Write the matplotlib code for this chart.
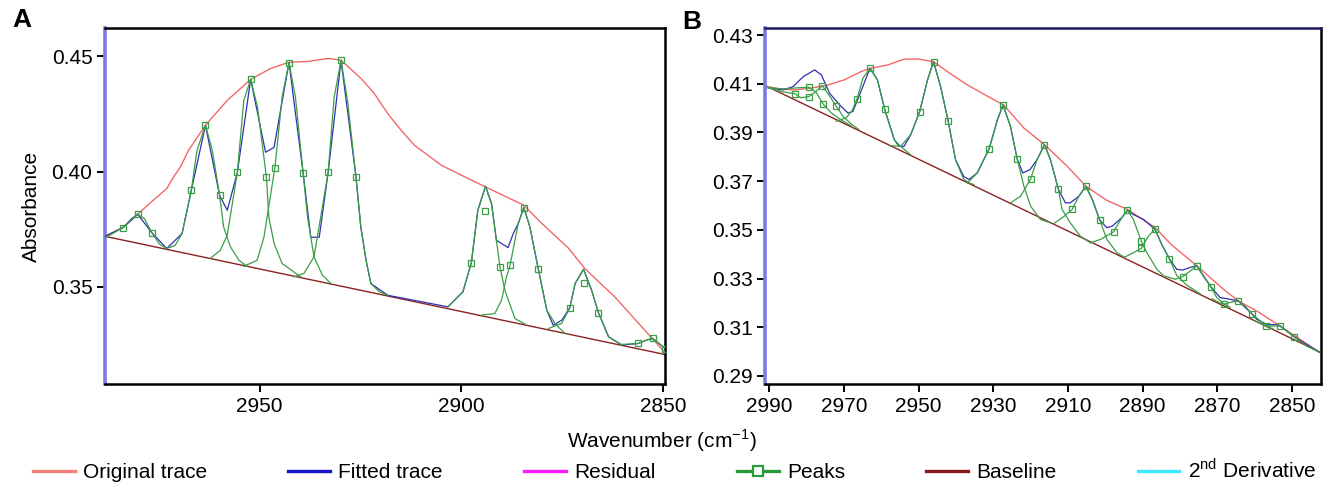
import matplotlib
matplotlib.use("Agg")
import matplotlib.pyplot as plt
from matplotlib.lines import Line2D

plt.rcParams['font.family'] = ['Liberation Sans', 'DejaVu Sans']
plt.rcParams['mathtext.fontset'] = 'custom'
plt.rcParams['mathtext.rm'] = 'Liberation Sans'

RED = '#f26868'
BLUE = '#3030b0'
GREEN = '#3a9e46'
BASE = '#8b2222'

# ---------------- panel A ----------------
A_BASE_X = [2988.3, 2849.5]
A_BASE_Y = [0.3719, 0.3206]

A_ORIG_X = [2988.3, 2983.8, 2980.2, 2976.3, 2973.0, 2971.3, 2969.6, 2967.6, 2963.4, 2958.0,
            2952.2, 2947.3, 2942.8, 2938.1, 2932.8, 2929.8, 2924.9, 2921.6, 2918.2, 2914.9,
            2911.6, 2909.9, 2904.9, 2898.3, 2894.3, 2884.5, 2880.1, 2873.4, 2869.5, 2861.9,
            2849.4]
A_ORIG_Y = [0.3719, 0.3758, 0.3815, 0.3876, 0.3926, 0.3977, 0.4020, 0.4092, 0.4201, 0.4309,
            0.4400, 0.4447, 0.4474, 0.4478, 0.4491, 0.4483, 0.4405, 0.4340, 0.4251, 0.4179,
            0.4114, 0.4092, 0.4027, 0.3970, 0.3936, 0.3854, 0.3776, 0.3667, 0.3581, 0.3455,
            0.3212]

A_FIT_X = [2988.3, 2983.8, 2980.2, 2976.7, 2973.0, 2969.2, 2966.9, 2963.4, 2959.9, 2958.0,
           2955.5, 2952.2, 2948.5, 2946.4, 2942.7, 2939.2, 2937.3, 2935.2, 2933.0, 2929.8,
           2926.1, 2924.9, 2923.6, 2922.4, 2918.2, 2903.3, 2899.6, 2897.5, 2895.9, 2894.0,
           2892.5, 2891.3, 2888.4, 2887.1, 2885.9, 2884.5, 2883.0, 2880.9, 2878.8, 2877.2,
           2875.1, 2873.1, 2871.8, 2869.7, 2867.7, 2866.0, 2863.5, 2860.2, 2856.1, 2854.5,
           2852.6, 2849.4]
A_FIT_Y = [0.3719, 0.3757, 0.3815, 0.3735, 0.3666, 0.3731, 0.3919, 0.4201, 0.3897, 0.3832,
           0.3996, 0.4400, 0.4084, 0.4105, 0.4473, 0.3994, 0.3715, 0.3715, 0.3996, 0.4483,
           0.3977, 0.3760, 0.3615, 0.3514, 0.3463, 0.3413, 0.3478, 0.3605, 0.3832, 0.3936,
           0.3861, 0.3702, 0.3670, 0.3732, 0.3774, 0.3844, 0.3760, 0.3576, 0.3398, 0.3333,
           0.3355, 0.3409, 0.3514, 0.3576, 0.3485, 0.3387, 0.3283, 0.3247, 0.3254, 0.3266,
           0.3276, 0.3232]

A_PEAKS_X = [
    [2987.9, 2983.8, 2981.8, 2980.2, 2978.5, 2976.7, 2974.8, 2973.0],
    [2973.0, 2970.9, 2969.2, 2966.9, 2965.5, 2963.4, 2961.7, 2959.9, 2958.9, 2957.2, 2955.1, 2953.1],
    [2962.2, 2959.7, 2958.0, 2955.5, 2953.9, 2952.2, 2950.5, 2948.3, 2947.7, 2946.4, 2944.4, 2939.8],
    [2953.9, 2950.6, 2948.9, 2946.2, 2944.4, 2942.7, 2941.1, 2939.2, 2938.1, 2936.5, 2934.4, 2932.3],
    [2941.5, 2939.0, 2936.5, 2933.0, 2931.5, 2929.8, 2928.2, 2926.1, 2924.9, 2923.6, 2922.4, 2920.3, 2918.2],
    [2903.3, 2899.6, 2897.5, 2895.9, 2894.0, 2892.5, 2891.3, 2890.4, 2889.2, 2886.7, 2884.2],
    [2895.0, 2891.7, 2890.0, 2888.8, 2887.9, 2885.9, 2884.5, 2883.0, 2880.9, 2878.8, 2876.8, 2874.3],
    [2878.4, 2875.1, 2873.1, 2871.8, 2869.7, 2867.7, 2866.0, 2863.5, 2860.2],
    [2860.2, 2856.1, 2854.5, 2852.6, 2849.4],
]
A_PEAKS_Y = [
    [0.3716, 0.3757, 0.3795, 0.3815, 0.3795, 0.3735, 0.3685, 0.3666],
    [0.3666, 0.3680, 0.3731, 0.3919, 0.4092, 0.4201, 0.4092, 0.3897, 0.3760, 0.3673, 0.3615, 0.3589],
    [0.3623, 0.3659, 0.3724, 0.3996, 0.4309, 0.4400, 0.4280, 0.3977, 0.3803, 0.3688, 0.3601, 0.3543],
    [0.3589, 0.3615, 0.3716, 0.4016, 0.4323, 0.4473, 0.4323, 0.3994, 0.3803, 0.3630, 0.3550, 0.3514],
    [0.3543, 0.3558, 0.3630, 0.3996, 0.4323, 0.4483, 0.4309, 0.3977, 0.3760, 0.3615, 0.3514, 0.3478, 0.3463],
    [0.3413, 0.3478, 0.3605, 0.3832, 0.3936, 0.3861, 0.3702, 0.3586, 0.3485, 0.3362, 0.3338],
    [0.3377, 0.3384, 0.3442, 0.3543, 0.3594, 0.3774, 0.3844, 0.3760, 0.3576, 0.3398, 0.3341, 0.3297],
    [0.3319, 0.3341, 0.3409, 0.3514, 0.3576, 0.3485, 0.3387, 0.3283, 0.3247],
    [0.3250, 0.3254, 0.3266, 0.3276, 0.3232],
]

A_SQ_X = [2983.8, 2980.2, 2976.7, 2966.9, 2963.4, 2959.9, 2955.5, 2952.2, 2948.5, 2946.2,
          2942.7, 2939.2, 2933.0, 2929.8, 2926.1, 2897.5, 2894.0, 2890.4, 2887.9, 2884.5,
          2880.9, 2873.1, 2869.5, 2866.0, 2856.1, 2852.6, 2849.4]
A_SQ_Y = [0.3757, 0.3815, 0.3735, 0.3919, 0.4201, 0.3897, 0.3996, 0.4400, 0.3977, 0.4016,
          0.4473, 0.3994, 0.3996, 0.4483, 0.3977, 0.3605, 0.3828, 0.3586, 0.3594, 0.3844,
          0.3576, 0.3409, 0.3517, 0.3387, 0.3254, 0.3276, 0.3232]

A_XTICKS = [2950, 2900, 2850]
A_YTICKS = [0.35, 0.40, 0.45]

# ---------------- panel B ----------------
B_BASE_X = [2990.8, 2842.3]
B_BASE_Y = [0.4091, 0.2996]

B_ORIG_X = [2990.3, 2986.8, 2983.2, 2978.8, 2974.3, 2969.9, 2965.4, 2962.8, 2958.3, 2953.9,
            2950.3, 2946.0, 2942.3, 2936.9, 2929.8, 2927.2, 2921.8, 2916.3, 2910.2, 2905.2,
            2899.6, 2894.1, 2886.7, 2882.4, 2875.5, 2868.4, 2864.4, 2859.5, 2853.3, 2842.7]
B_ORIG_Y = [0.4088, 0.4078, 0.4075, 0.4082, 0.4095, 0.4116, 0.4150, 0.4164, 0.4177, 0.4201,
            0.4202, 0.4191, 0.4150, 0.4095, 0.4034, 0.4013, 0.3918, 0.3850, 0.3761, 0.3679,
            0.3621, 0.3584, 0.3510, 0.3440, 0.3352, 0.3256, 0.3208, 0.3167, 0.3106, 0.2997]

B_FIT_X = [2990.3, 2986.3, 2983.6, 2980.9, 2977.8, 2976.0, 2973.8, 2971.1, 2968.9, 2967.6,
           2965.8, 2963.0, 2961.0, 2959.1, 2956.5, 2955.2, 2953.9, 2952.1, 2949.7, 2947.6,
           2946.0, 2944.1, 2942.1, 2940.1, 2937.9, 2936.5, 2934.3, 2931.1, 2928.9, 2927.4,
           2925.4, 2923.6, 2922.1, 2920.2, 2918.3, 2916.3, 2914.7, 2912.6, 2910.7, 2909.4,
           2907.1, 2905.2, 2903.5, 2901.5, 2899.6, 2898.2, 2895.6, 2894.1, 2892.5, 2889.8,
           2886.7, 2884.9, 2882.9, 2880.9, 2879.3, 2877.3, 2875.5, 2871.8, 2869.3, 2866.6,
           2864.4, 2860.7, 2859.5, 2857.0, 2854.2, 2853.3, 2849.5, 2842.6]
B_FIT_Y = [0.4084, 0.4075, 0.4088, 0.4129, 0.4157, 0.4136, 0.4061, 0.4013, 0.3980, 0.3986,
           0.4054, 0.4164, 0.4116, 0.3997, 0.3870, 0.3843, 0.3843, 0.3891, 0.3986, 0.4116,
           0.4191, 0.4088, 0.3949, 0.3788, 0.3719, 0.3707, 0.3734, 0.3833, 0.3952, 0.4013,
           0.3925, 0.3791, 0.3734, 0.3747, 0.3788, 0.3850, 0.3788, 0.3668, 0.3611, 0.3611,
           0.3638, 0.3679, 0.3625, 0.3540, 0.3509, 0.3515, 0.3550, 0.3581, 0.3563, 0.3543,
           0.3502, 0.3440, 0.3382, 0.3338, 0.3335, 0.3346, 0.3352, 0.3267, 0.3222, 0.3215,
           0.3208, 0.3154, 0.3133, 0.3113, 0.3110, 0.3106, 0.3061, 0.2997]

B_PEAKS_X = [
    [2990.3, 2986.3, 2982.8, 2979.4, 2977.5, 2975.6, 2973.4, 2970.8, 2968.1],
    [2990.3, 2986.3, 2983.1, 2981.5, 2979.4, 2977.5, 2975.8, 2974.0, 2972.0, 2970.2, 2968.1, 2966.0],
    [2972.1, 2969.4, 2967.8, 2966.5, 2964.9, 2963.0, 2961.0, 2959.1, 2956.5, 2954.8, 2952.1],
    [2957.4, 2954.8, 2952.1, 2949.7, 2947.6, 2946.0, 2944.1, 2942.1, 2940.1, 2937.9, 2936.5, 2935.2],
    [2936.9, 2934.3, 2931.1, 2928.9, 2927.4, 2925.4, 2923.6, 2921.8, 2920.0, 2917.4, 2914.7],
    [2925.4, 2922.7, 2920.0, 2918.3, 2916.3, 2914.7, 2912.6, 2911.6, 2909.4, 2906.7, 2904.0],
    [2913.8, 2911.1, 2908.9, 2907.1, 2905.2, 2903.5, 2901.5, 2899.6, 2896.9, 2894.7],
    [2904.0, 2901.3, 2897.8, 2895.6, 2894.1, 2892.5, 2890.4, 2888.9, 2886.2, 2884.4],
    [2895.1, 2892.5, 2890.4, 2888.5, 2886.7, 2884.9, 2882.9, 2880.9, 2878.2, 2874.6],
    [2884.0, 2881.3, 2879.3, 2877.3, 2875.5, 2873.8, 2871.8, 2870.2, 2868.2, 2866.6],
    [2871.4, 2869.3, 2868.2, 2866.2, 2864.4, 2862.6, 2860.7, 2858.6, 2857.0, 2855.1],
    [2860.0, 2857.0, 2855.2, 2853.3, 2851.4, 2849.5, 2846.2, 2842.6],
]
B_PEAKS_Y = [
    [0.4084, 0.4079, 0.4083, 0.4086, 0.4067, 0.4018, 0.3981, 0.3952, 0.3928],
    [0.4084, 0.4067, 0.4059, 0.4043, 0.4047, 0.4068, 0.4092, 0.4054, 0.4007, 0.3966, 0.3936, 0.3912],
    [0.3946, 0.3960, 0.3989, 0.4037, 0.4123, 0.4164, 0.4116, 0.3997, 0.3870, 0.3843, 0.3808],
    [0.3846, 0.3843, 0.3891, 0.3986, 0.4116, 0.4191, 0.4088, 0.3949, 0.3788, 0.3707, 0.3693, 0.3686],
    [0.3693, 0.3734, 0.3833, 0.3952, 0.4013, 0.3925, 0.3791, 0.3679, 0.3597, 0.3543, 0.3529],
    [0.3611, 0.3638, 0.3709, 0.3788, 0.3850, 0.3788, 0.3668, 0.3584, 0.3529, 0.3474, 0.3447],
    [0.3526, 0.3555, 0.3584, 0.3638, 0.3679, 0.3625, 0.3540, 0.3461, 0.3406, 0.3386],
    [0.3447, 0.3461, 0.3492, 0.3550, 0.3581, 0.3543, 0.3454, 0.3406, 0.3338, 0.3311],
    [0.3386, 0.3406, 0.3424, 0.3474, 0.3502, 0.3440, 0.3382, 0.3313, 0.3273, 0.3237],
    [0.3310, 0.3297, 0.3308, 0.3331, 0.3352, 0.3310, 0.3267, 0.3222, 0.3195, 0.3181],
    [0.3217, 0.3199, 0.3195, 0.3204, 0.3208, 0.3187, 0.3154, 0.3127, 0.3106, 0.3093],
    [0.3127, 0.3106, 0.3105, 0.3106, 0.3084, 0.3061, 0.3024, 0.2997],
]

B_SQ_X = [2983.1, 2979.4, 2979.4, 2975.8, 2975.6, 2972.0, 2966.5, 2963.0, 2959.1, 2949.7,
          2946.0, 2942.1, 2931.1, 2927.4, 2923.6, 2920.0, 2916.3, 2912.6, 2908.9, 2905.2,
          2901.5, 2897.8, 2894.1, 2890.4, 2890.4, 2886.7, 2882.9, 2879.3, 2875.5, 2871.8,
          2868.2, 2864.4, 2860.7, 2857.0, 2853.3, 2849.5]
B_SQ_Y = [0.4059, 0.4086, 0.4047, 0.4092, 0.4018, 0.4007, 0.4037, 0.4164, 0.3997, 0.3986,
          0.4191, 0.3949, 0.3833, 0.4013, 0.3791, 0.3709, 0.3850, 0.3668, 0.3584, 0.3679,
          0.3540, 0.3492, 0.3581, 0.3454, 0.3424, 0.3502, 0.3382, 0.3308, 0.3352, 0.3267,
          0.3195, 0.3208, 0.3154, 0.3106, 0.3106, 0.3061]

B_XTICKS = [2990, 2970, 2950, 2930, 2910, 2890, 2870, 2850]
B_YTICKS = [0.29, 0.31, 0.33, 0.35, 0.37, 0.39, 0.41, 0.43]

LEGEND_LABELS = ['Original trace', 'Fitted trace', 'Residual', 'Peaks', 'Baseline',
                 '2$^{\\mathregular{nd}}$ Derivative']
LEGEND_COLORS = ['#f4807a', '#1414c8', '#ff19ff', '#2a9a3a', '#8b1a1a', '#3ee8ff']


def draw_panel(ax, base_x, base_y, orig_x, orig_y, fit_x, fit_y, peaks_x, peaks_y, sq_x, sq_y):
    ax.plot(base_x, base_y, color=BASE, lw=1.0, zorder=2)
    ax.plot(orig_x, orig_y, color=RED, lw=1.0, zorder=3)
    ax.plot(fit_x, fit_y, color=BLUE, lw=0.9, zorder=4)
    for px, py in zip(peaks_x, peaks_y):
        ax.plot(px, py, color=GREEN, lw=0.9, zorder=5)
    ax.plot(sq_x, sq_y, ls='none', marker='s', ms=4.5, mfc='none', mec=GREEN, mew=0.9, zorder=6)

    for side in ['top', 'right', 'bottom']:
        ax.spines[side].set_color('black')
        ax.spines[side].set_linewidth(1.8)
    ax.spines['left'].set_color('#7b7be0')
    ax.spines['left'].set_linewidth(2.6)
    ax.tick_params(axis='both', direction='out', length=6, width=1.4, labelsize=15,
                   color='black', pad=3)


fig = plt.figure(figsize=(13.24, 4.9), dpi=100)
axA = fig.add_axes([0.0793, 0.2163, 0.4230, 0.7265])
axB = fig.add_axes([0.5778, 0.2163, 0.4199, 0.7265])

draw_panel(axA, A_BASE_X, A_BASE_Y, A_ORIG_X, A_ORIG_Y, A_FIT_X, A_FIT_Y,
           A_PEAKS_X, A_PEAKS_Y, A_SQ_X, A_SQ_Y)
axA.set_xlim(2988.3, 2849.5)
axA.set_ylim(0.3078, 0.4623)
axA.set_xticks(A_XTICKS)
axA.set_yticks(A_YTICKS)
axA.set_yticklabels([f"{v:.2f}" for v in A_YTICKS])

draw_panel(axB, B_BASE_X, B_BASE_Y, B_ORIG_X, B_ORIG_Y, B_FIT_X, B_FIT_Y,
           B_PEAKS_X, B_PEAKS_Y, B_SQ_X, B_SQ_Y)
axB.set_xlim(2991.1, 2842.3)
axB.set_ylim(0.2867, 0.4329)
axB.set_xticks(B_XTICKS)
axB.set_yticks(B_YTICKS)
axB.set_yticklabels([f"{v:.2f}" for v in B_YTICKS])
axB.spines['top'].set_color('#1c1c5c')

fig.text(0.0166, 0.959, 'A', fontsize=19, fontweight='bold', ha='center', va='center')
fig.text(0.5225, 0.955, 'B', fontsize=19, fontweight='bold', ha='center', va='center')
fig.text(0.0235, 0.578, 'Absorbance', fontsize=15, rotation=90, ha='center', va='center')
fig.text(0.5, 0.100, 'Wavenumber (cm$^{\\mathregular{-1}}$)', fontsize=15, ha='center', va='center')

handles = []
for lab, col in zip(LEGEND_LABELS, LEGEND_COLORS):
    if lab == 'Peaks':
        h = Line2D([], [], color=col, lw=2.4, marker='s', ms=7, mfc='white', mec=col, mew=1.6)
    else:
        h = Line2D([], [], color=col, lw=2.4)
    handles.append(h)
fig.legend(handles, LEGEND_LABELS, loc='center', bbox_to_anchor=(0.5095, 0.041), ncol=6,
           frameon=False, fontsize=15, handlelength=2.0, handletextpad=0.4,
           columnspacing=3.9, borderpad=0)

fig.savefig('out.png', dpi=100)
